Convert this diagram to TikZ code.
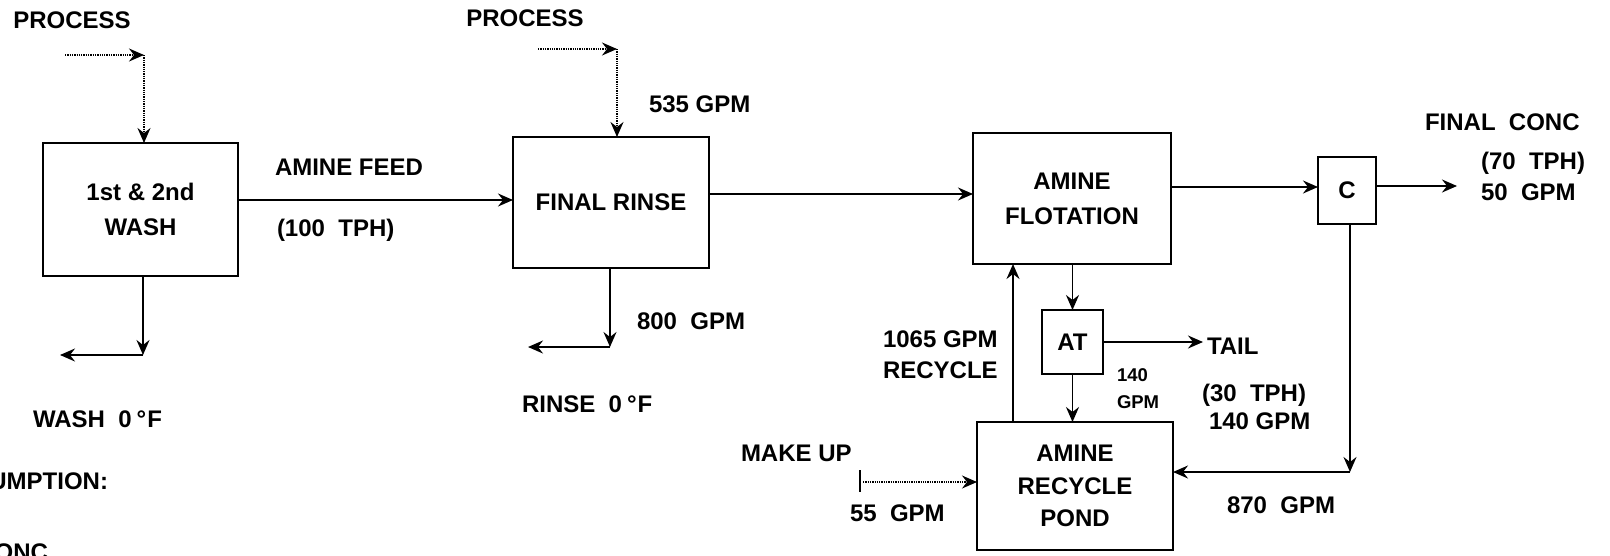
\documentclass[tikz,border=0pt]{standalone}
\usepackage{fontspec}
\setmainfont{Liberation Sans}
\usetikzlibrary{arrows.meta,calc}
\begin{document}
\begin{tikzpicture}[x=1pt,y=-1pt,
  every node/.style={font=\fontsize{24}{35}\selectfont\bfseries, inner sep=0pt, outer sep=0pt},
  box/.style={draw, line width=1.6pt, align=center},
  arr/.style={line width=1.6pt, -{Stealth[length=15pt,width=13pt,inset=5pt]}},
  dotarr/.style={line width=1.3pt, densely dotted, -{Stealth[length=15pt,width=13pt,inset=5pt]}},
  lbl/.style={anchor=west},
  smalltxt/.style={anchor=west, font=\fontsize{18.5}{22}\selectfont\bfseries}]
\useasboundingbox (0,0) rectangle (1610,555);
\clip (0,0) rectangle (1610,555);

% boxes
\node[box, minimum width=195pt, minimum height=133pt] (b1) at (140.5,209.5) {1st \& 2nd\\WASH};
\node[box, minimum width=196pt, minimum height=131pt] (rinse) at (611,202.5) {FINAL RINSE};
\node[box, minimum width=198pt, minimum height=131pt] (flot) at (1072,198.5) {AMINE\\FLOTATION};
\node[box, minimum width=58pt, minimum height=67pt] (C) at (1347,190.5) {C};
\node[box, minimum width=61pt, minimum height=64pt] (AT) at (1072.5,342) {AT};
\node[box, minimum width=196pt, minimum height=128pt, font=\fontsize{24}{32.5}\selectfont\bfseries] (pond) at (1075,486) {AMINE\\RECYCLE\\POND};

% free ends
\coordinate (p1s) at (65,55);
\coordinate (p1c) at (144,55);
\coordinate (p2s) at (538,49);
\coordinate (p2c) at (617,49);
\coordinate (w1) at (143,355);
\coordinate (w2) at (60,355);
\coordinate (r1) at (610,347);
\coordinate (r2) at (528,347);
\coordinate (fc) at (1457,186);
\coordinate (tail) at (1203,342);
\coordinate (cc) at (1350,472);
\coordinate (mu) at (863,482);
\coordinate (mut) at (860,470);
\coordinate (mub) at (860,492);

% process feeds
\draw[dotarr] (p1s) -- (p1c);
\draw[dotarr] (p1c) -- (b1.north -| p1c);
\draw[dotarr] (p2s) -- (p2c);
\draw[dotarr] (p2c) -- (rinse.north -| p2c);

% main line
\draw[arr] (b1.east |- 0,200) -- (rinse.west |- 0,200);
\draw[arr] (rinse.east |- 0,194) -- (flot.west |- 0,194);
\draw[arr] (flot.east |- 0,187) -- (C.west |- 0,187);
\draw[arr] (C.east |- fc) -- (fc);

% wash and rinse outlets
\draw[arr] (b1.south -| w1) -- (w1);
\draw[arr] (w1) -- (w2);
\draw[arr] (rinse.south -| r1) -- (r1);
\draw[arr] (r1) -- (r2);

% flotation circuit
\draw[arr] (AT.north |- flot.south) -- (AT.north);
\draw[arr] (AT.east) -- (tail);
\draw[arr] (AT.south) -- (AT.south |- pond.north);
\draw[arr] (pond.north -| 1013,0) -- (flot.south -| 1013,0);
\draw[arr] (C.south -| cc) -- (cc);
\draw[arr] (cc) -- (pond.east |- cc);
\draw[line width=1.3pt] (mut) -- (mub);
\draw[dotarr] (mu) -- (pond.west |- mu);

% labels
\node (tp1) at (72,20) {PROCESS};
\node (tp2) at (525,18) {PROCESS};
\node[lbl] (taf) at (275,167) {AMINE FEED};
\node[lbl] (t100) at (277,230) {(100\ \ TPH)};
\node[lbl] (t535) at (649,104) {535 GPM};
\node[lbl] (t800) at (637,321) {800\ \ GPM};
\node[lbl] (twash) at (33,419) {WASH\ \ 0\hspace{5pt}°\hspace{1pt}F};
\node[lbl] (trinse) at (522,404) {RINSE\ \ 0\hspace{5pt}°\hspace{1pt}F};
\node[lbl] (tmu) at (741,453) {MAKE UP};
\node[lbl] (t55) at (850,513) {55\ \ GPM};
\node[lbl] (t1065) at (883,339) {1065 GPM};
\node[lbl] (trec) at (883,370) {RECYCLE};
\node[smalltxt] (ts140) at (1117,375) {140};
\node[smalltxt] (tsgpm) at (1117,402) {GPM};
\node[lbl] (ttail) at (1207,346) {TAIL};
\node[lbl] (t30) at (1202,395) {(30\ \ TPH)};
\node[lbl] (t140) at (1209,421) {140 GPM};
\node[lbl] (t870) at (1227,505) {870\ \ GPM};
\node[lbl] (tfc) at (1425,122) {FINAL\ \ CONC};
\node[lbl] (t70) at (1481,163) {(70\ \ TPH)};
\node[lbl] (t50) at (1481,192) {50\ \ GPM};
\node[anchor=east] (tcons) at (108,481) {CONSUMPTION:};
\node[anchor=base east] (tconc) at (48,560) {CONC};
\end{tikzpicture}
\end{document}
